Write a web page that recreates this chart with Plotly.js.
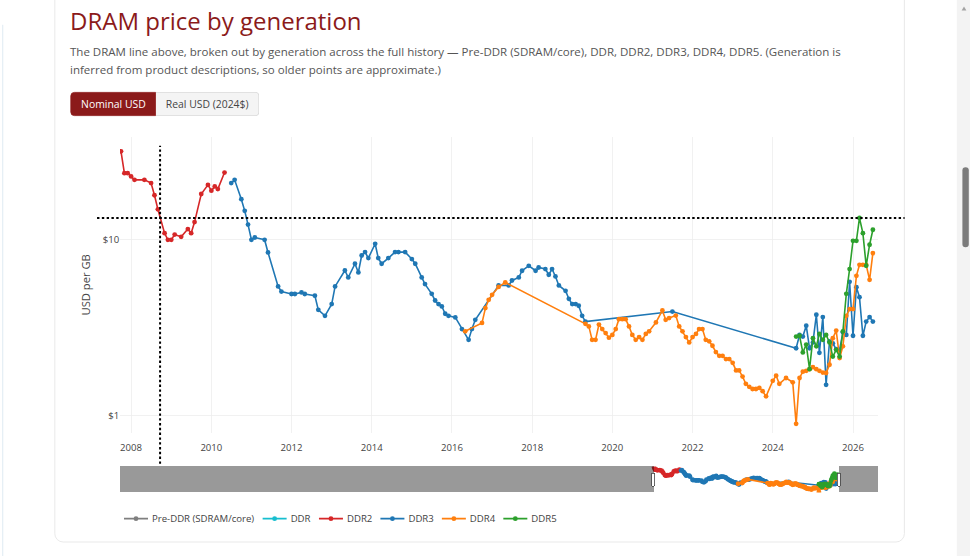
<!DOCTYPE html>
<html>
<head>
<meta charset="utf-8">
<script src="https://cdn.plot.ly/plotly-3.0.1.min.js"></script>
<style>
html,body{margin:0;padding:0;width:970px;height:556px;overflow:hidden;background:#fff;font-family:"Open Sans",sans-serif;}
#page{position:absolute;left:0;top:0;width:1212.5px;height:695px;transform:scale(0.8);transform-origin:0 0;background:#fff;}
#edge{position:absolute;left:2.5px;top:31px;width:1.5px;height:664px;background:#d6e5ee;}
#card{position:absolute;left:67.5px;top:-40px;width:1063px;height:718px;background:#fff;border:1px solid #e3e3e3;border-radius:11px;box-sizing:border-box;}
#title{position:absolute;left:87.5px;top:7.9px;margin:0;font-size:30px;line-height:36px;font-weight:400;color:#8b1a1a;white-space:nowrap;}
#sub{position:absolute;left:87.5px;top:52.9px;width:1010px;margin:0;font-size:14.4px;line-height:23.04px;color:#555;}
#btns{position:absolute;left:88.4px;top:115px;display:flex;}
.btn{height:30px;box-sizing:border-box;padding:0 12px;font-size:13px;line-height:28px;border:1px solid #d8d8d8;background:#f4f4f4;color:#444;white-space:nowrap;}
.btn.on{background:#8b1a1a;border-color:#8b1a1a;color:#fff;border-radius:5px 0 0 5px;}
.btn.last{border-radius:0 5px 5px 0;border-left:none;}
#chart{position:absolute;left:70px;top:155px;width:1063px;height:520px;}
#track{position:absolute;left:1196px;top:0;width:16.5px;height:695px;background:#f3f3f3;}
#thumb{position:absolute;left:1203px;top:209px;width:8px;height:100px;border-radius:4px;background:#7b7b7b;}
#arrow{position:absolute;left:1202px;top:8px;width:0;height:0;border-left:3.5px solid transparent;border-right:3.5px solid transparent;border-bottom:5px solid #a3a3a3;}
</style>
</head>
<body>
<div id="page">
  <div id="edge"></div>
  <div id="card"></div>
  <h2 id="title">DRAM price by generation</h2>
  <p id="sub">The DRAM line above, broken out by generation across the full history — Pre-DDR (SDRAM/core), DDR, DDR2, DDR3, DDR4, DDR5. (Generation is inferred from product descriptions, so older points are approximate.)</p>
  <div id="btns"><div class="btn on">Nominal USD</div><div class="btn last">Real USD (2024$)</div></div>
  <div id="chart"></div>
  <div id="track"></div><div id="arrow"></div><div id="thumb"></div>
</div>
<script>
// ---- data (USD per GB, monthly) ----
const preDdrDates = [];
const preDdrPrices = [];
const ddrDates = [];
const ddrPrices = [];

const ddr2Dates = ['2007-10','2007-11','2007-12','2008-01','2008-02','2008-05','2008-07','2008-08','2008-09','2008-11','2008-12','2009-01','2009-02','2009-04','2009-06','2009-07','2009-08','2009-10','2009-12','2010-01','2010-02','2010-03','2010-05'];
const ddr2Prices = [31.8,23.9,23.9,22.9,21.9,21.9,21.0,17.9,14.9,10.9,10.0,10.0,10.7,10.4,11.5,10.9,12.6,18.2,20.5,19.0,20.1,19.4,24.1];

const ddr3Dates = ['2010-07','2010-08','2010-10','2010-11','2010-12','2011-01','2011-02','2011-05','2011-06','2011-09','2011-10','2012-01','2012-02','2012-04','2012-05','2012-08','2012-09','2012-11','2013-01','2013-02','2013-05','2013-06','2013-08','2013-09','2013-10','2013-11','2013-12','2014-02','2014-03','2014-04','2014-06','2014-08','2014-09','2014-11','2015-01','2015-02','2015-04','2015-05','2015-07','2015-08','2015-09','2015-10','2015-11','2015-12','2016-02','2016-04','2016-06','2016-07','2016-08','2017-03','2017-06','2017-07','2017-09','2017-10','2017-12','2018-02','2018-03','2018-05','2018-06','2018-07','2018-08','2018-09','2018-11','2018-12','2019-01','2019-02','2019-03','2019-04','2019-05','2021-07','2024-08','2024-09','2024-10','2024-11','2024-12','2025-01','2025-02','2025-03','2025-04','2025-05','2025-06','2025-07','2025-08','2025-09','2025-10','2025-11','2025-12','2026-01','2026-02','2026-03','2026-04','2026-05','2026-06','2026-07'];
const ddr3Prices = [21.0,21.9,17.0,14.6,12.2,10.0,10.3,10.0,8.47,5.43,5.08,4.92,4.92,5.02,4.92,4.81,4.0,3.70,4.31,5.43,6.69,6.11,7.31,6.52,8.14,8.51,7.87,9.49,7.87,7.31,7.87,8.51,8.51,8.51,7.77,7.31,6.11,5.60,4.93,4.52,4.31,4.18,3.80,3.70,3.62,3.11,2.70,3.11,3.51,5.50,5.50,5.87,6.11,6.67,7.11,6.67,6.96,6.82,6.33,6.82,6.19,5.50,5.13,4.62,4.31,4.31,4.22,3.70,3.43,3.91,2.42,2.88,2.82,3.25,2.42,2.61,3.75,2.28,3.64,1.50,2.65,2.58,2.39,2.37,2.98,2.88,5.77,2.85,5.38,4.72,2.85,3.43,3.64,3.43];

const ddr4Dates = ['2016-05','2016-10','2016-11','2016-12','2017-01','2017-03','2017-05','2019-05','2019-06','2019-07','2019-08','2019-09','2019-10','2019-11','2019-12','2020-01','2020-02','2020-03','2020-04','2020-05','2020-06','2020-07','2020-08','2020-09','2020-10','2020-11','2020-12','2021-02','2021-04','2021-05','2021-06','2021-08','2021-09','2021-10','2021-11','2021-12','2022-01','2022-02','2022-03','2022-04','2022-05','2022-06','2022-07','2022-08','2022-09','2022-10','2022-11','2022-12','2023-01','2023-02','2023-03','2023-04','2023-05','2023-06','2023-07','2023-08','2023-09','2023-10','2023-11','2024-01','2024-02','2024-03','2024-05','2024-07','2024-08','2024-09','2024-10','2024-11','2024-12','2025-01','2025-02','2025-03','2025-04','2025-05','2025-06','2025-07','2025-08','2025-09','2025-10','2025-11','2025-12','2026-01','2026-02','2026-03','2026-04','2026-05','2026-06','2026-07'];
const ddr4Prices = [3.02,3.37,4.09,4.56,4.87,5.40,5.72,3.33,3.22,2.70,2.70,3.30,3.11,2.95,2.78,2.88,3.11,3.54,3.54,3.54,3.22,2.88,2.70,2.80,2.70,2.92,3.02,3.39,3.97,3.51,3.59,3.71,3.22,3.02,2.80,2.61,2.80,2.92,3.11,3.11,2.70,2.65,2.50,2.30,2.19,2.19,2.10,2.10,2.00,1.81,1.81,1.67,1.52,1.46,1.42,1.42,1.44,1.38,1.29,1.58,1.69,1.52,1.64,1.55,0.90,1.64,1.78,1.80,1.84,1.89,1.84,1.80,1.76,1.75,1.95,2.76,3.05,2.13,2.48,3.70,4.04,4.04,6.24,7.21,7.21,7.21,5.92,8.40];

const ddr5Dates = ['2024-08','2024-09','2024-10','2024-11','2024-12','2025-01','2025-02','2025-03','2025-04','2025-05','2025-06','2025-07','2025-08','2025-09','2025-10','2025-11','2025-12','2026-01','2026-02','2026-03','2026-04','2026-05','2026-06','2026-07'];
const ddr5Prices = [2.82,2.85,2.29,2.54,1.84,2.76,2.48,2.92,2.70,2.88,2.61,2.17,2.37,2.17,3.02,4.93,6.82,9.87,9.87,13.3,10.9,7.11,9.37,11.4];

const generationNames = ['Pre-DDR (SDRAM/core)','DDR','DDR2','DDR3','DDR4','DDR5'];
const generationColors = ['#7f7f7f','#17becf','#d62728','#1f77b4','#ff7f0e','#2ca02c'];

// crosshair (hovered point)
const crossDate = '2008-09-21';
const crossPrice = 13.3;

// ---- view settings ----
const xRange = ['2007-09-22','2026-08-13'];
const sliderRange = ['1953-03-01','2030-08-01'];
const yRange = [-0.0966, 1.585];

const series = [
  [preDdrDates, preDdrPrices],
  [ddrDates, ddrPrices],
  [ddr2Dates, ddr2Prices],
  [ddr3Dates, ddr3Prices],
  [ddr4Dates, ddr4Prices],
  [ddr5Dates, ddr5Prices]
];

const traces = series.map(function(s, i){
  return {
    type: 'scatter',
    mode: 'lines+markers',
    name: generationNames[i],
    x: s[0].length ? s[0] : [null],
    y: s[1].length ? s[1] : [null],
    line: {color: generationColors[i], width: 2},
    marker: {color: generationColors[i], size: 6}
  };
});

const ms = function(d){ return new Date(d).getTime(); };
const crossXPaper = (ms(crossDate) - ms(xRange[0])) / (ms(xRange[1]) - ms(xRange[0]));
const crossYPaper = (Math.log10(crossPrice) - yRange[0]) / (yRange[1] - yRange[0]);
const spikeLine = {color: '#000', width: 2.5, dash: 'dot'};

const layout = {
  width: 1063,
  height: 520,
  margin: {l: 80, r: 35.5, t: 16.25, b: 58.75},
  paper_bgcolor: 'rgba(0,0,0,0)',
  plot_bgcolor: '#fff',
  font: {family: '"Open Sans", verdana, arial, sans-serif', size: 12, color: '#444'},
  showlegend: true,
  legend: {orientation: 'h', x: 0, xanchor: 'left', y: -0.29, yanchor: 'middle', bgcolor: 'rgba(0,0,0,0)'},
  xaxis: {
    type: 'date',
    range: xRange,
    tick0: '2008-01-01',
    dtick: 'M24',
    tickformat: '%Y',
    gridcolor: '#eee',
    zeroline: false,
    ticklabelstandoff: 10,
    rangeslider: {visible: true, range: sliderRange, thickness: 0.0732, bgcolor: '#fff'}
  },
  yaxis: {
    type: 'log',
    range: yRange,
    dtick: 1,
    tickprefix: '$',
    gridcolor: '#eee',
    zeroline: false,
    title: {text: 'USD per GB'}
  },
  shapes: [
    {type: 'line', xref: 'paper', yref: 'paper', x0: crossXPaper, x1: crossXPaper, y0: -0.1047, y1: 0.9696, line: spikeLine},
    {type: 'line', xref: 'paper', yref: 'paper', x0: -0.0303, x1: 1.0356, y0: crossYPaper, y1: crossYPaper, line: spikeLine}
  ]
};

Plotly.newPlot('chart', traces, layout, {displayModeBar: false, responsive: false});
</script>
</body>
</html>
